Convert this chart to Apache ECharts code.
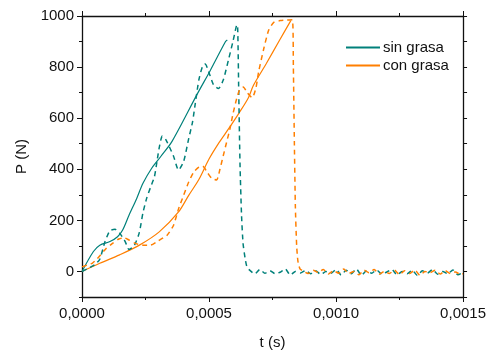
<!DOCTYPE html>
<html>
<head>
<meta charset="utf-8">
<script src="https://cdn.jsdelivr.net/npm/echarts@6/dist/echarts.min.js"></script>
<style>html,body{margin:0;padding:0;background:#fff}#c{width:489px;height:355px}</style>
</head>
<body>
<div id="c"></div>
<script>
// x ticks (s) and y ticks (N)
const xTicks = [0, 0.0005, 0.0010, 0.0015];
const yTicks = [0, 200, 400, 600, 800, 1000];

// sin grasa – fitted (solid)
const sinFitT = [0, 0.000045, 0.00007, 0.00011, 0.00014, 0.00016, 0.000185, 0.000215, 0.00024, 0.000275, 0.00031, 0.000355, 0.000455, 0.000505, 0.000565, 0.000572];
const sinFitP = [0, 78, 103, 117, 136, 162, 220, 285, 345, 405, 450, 510, 697, 787, 900, 906];

// sin grasa – measured (dashed)
const sinRawT = [0, 0.00002, 0.00005, 0.00007, 0.00009, 0.00011, 0.00013, 0.00015, 0.00017, 0.000185, 0.000205, 0.000225, 0.00024, 0.000255, 0.00027, 0.000285, 0.000295, 0.000305, 0.000316, 0.00033, 0.00036, 0.00038, 0.0004, 0.00042, 0.000435, 0.000446, 0.00046, 0.000475, 0.000485, 0.0005, 0.000518, 0.000537, 0.000556, 0.000576, 0.000595, 0.000608, 0.000612, 0.000617, 0.000622, 0.000628, 0.000634, 0.000642, 0.00065, 0.00066,
  0.00068, 0.0007, 0.00072, 0.00074, 0.00076, 0.00078, 0.0008, 0.00082, 0.00084, 0.00086, 0.00088, 0.0009, 0.00092, 0.00094, 0.00096, 0.00098, 0.001, 0.00102, 0.00104, 0.00106, 0.00108, 0.0011, 0.00112, 0.00114, 0.00116, 0.00118, 0.0012, 0.00122, 0.00124, 0.00126, 0.00128, 0.0013, 0.00132, 0.00134, 0.00136, 0.00138, 0.0014, 0.00142, 0.00144, 0.00146, 0.00148, 0.0015];
const sinRawP = [0, 10, 26, 48, 115, 160, 165, 148, 117, 86, 100, 150, 230, 288, 330, 370, 430, 490, 530, 516, 452, 397, 430, 520, 585, 658, 750, 805, 812, 778, 730, 716, 749, 826, 904, 962, 965, 700, 420, 220, 110, 52, 15, 5,
  -10, 8, -7, 3, -9, -3, 10, -14, 0, -6, 4, -9, 3, -12, 0, -7, 8, -14, 5, -9, 10, -16, 3, -7, 6, -11, -2, 8, -14, 0, -9, 5, -16, 3, -6, 8, -11, 0, -9, 6, -13, -3];

// con grasa – fitted (solid)
const conFitT = [0, 0.00007, 0.000148, 0.000226, 0.000304, 0.00038, 0.00042, 0.00046, 0.0005, 0.00054, 0.000576, 0.000618, 0.000655, 0.000675, 0.000725, 0.000777, 0.000822];
const conFitP = [0, 32, 65, 103, 155, 233, 298, 360, 440, 505, 557, 620, 680, 729, 813, 904, 982];

// con grasa – measured (dashed)
const conRawT = [0, 0.00002, 0.00004, 0.00006, 0.000095, 0.00012, 0.000145, 0.000165, 0.000185, 0.00021, 0.00024, 0.00027, 0.0003, 0.000335, 0.00036, 0.00038, 0.0004, 0.00042, 0.00044, 0.00046, 0.000475, 0.000495, 0.00051, 0.00053, 0.000543, 0.000556, 0.000569, 0.000582, 0.000595, 0.000608, 0.00062, 0.000635, 0.00065, 0.00067, 0.000685, 0.000695, 0.000715, 0.000735, 0.000755, 0.00078, 0.000805, 0.000828, 0.000832, 0.000836, 0.00084, 0.000845, 0.00085, 0.000858, 0.00087,
  0.00089, 0.00091, 0.00093, 0.00095, 0.00097, 0.00099, 0.00101, 0.00103, 0.00105, 0.00107, 0.00109, 0.00111, 0.00113, 0.00115, 0.00117, 0.00119, 0.00121, 0.00123, 0.00125, 0.00127, 0.00129, 0.00131, 0.00133, 0.00135, 0.00137, 0.00139, 0.00141, 0.00143, 0.00145, 0.00147, 0.00149, 0.0015];
const conRawP = [18, 25, 32, 50, 90, 110, 127, 132, 123, 110, 103, 103, 120, 142, 180, 245, 298, 350, 389, 408, 412, 385, 365, 358, 400, 453, 505, 557, 620, 673, 710, 722, 700, 680, 720, 780, 870, 945, 975, 982, 984, 985, 800, 500, 250, 100, 40, 10, 2,
  -8, 5, -4, 8, -10, 3, -7, 10, -8, 0, -13, 5, -5, 8, -11, 0, -8, 5, -13, 3, -8, 6, -15, 0, -5, 5, -10, 3, -8, -2, -12, -9];

const teal = '#00807a';
const orange = '#ff7f00';
const pair = (t, p) => t.map((v, i) => [v, p[i]]);
const font = 'Liberation Sans, Arial, sans-serif';

const chart = echarts.init(document.getElementById('c'), null, {renderer: 'canvas'});
const axisLine = {show: true, onZero: false, lineStyle: {color: '#111', width: 1.3}};
const fmtX = v => xTicks.some(t => Math.abs(t - v) < 1e-9) ? v.toFixed(4).replace('.', ',') : '';
const fmtY = v => yTicks.indexOf(Math.round(v)) >= 0 ? String(Math.round(v)) : '';

chart.setOption({
  animation: false,
  grid: {left: 82, right: 21, top: 16, bottom: 56, containLabel: false},
  legend: {
    data: ['sin grasa', 'con grasa'],
    orient: 'vertical', left: 341, top: 35,
    itemWidth: 34, itemHeight: 2, itemGap: 3,
    icon: 'rect',
    textStyle: {fontFamily: font, fontSize: 15, color: '#111', padding: [0, 0, 0, -2]}
  },
  xAxis: [{
    type: 'value', min: 0, max: 0.0015, interval: 0.0005, position: 'bottom',
    name: 't (s)', nameLocation: 'middle', nameGap: 38,
    nameTextStyle: {fontFamily: font, fontSize: 15, color: '#111'},
    axisLine: axisLine,
    axisTick: {show: true, inside: false, length: 5, lineStyle: {color: '#111'}},
    minorTick: {show: true, splitNumber: 2, length: 3, lineStyle: {color: '#111'}},
    axisLabel: {formatter: fmtX, fontFamily: font, fontSize: 15, color: '#111', margin: 9, showMaxLabel: true},
    splitLine: {show: false}
  }, {
    type: 'value', min: 0, max: 0.0015, interval: 0.0005, position: 'top',
    axisLine: axisLine,
    axisTick: {show: true, inside: false, length: 5, lineStyle: {color: '#111'}},
    minorTick: {show: true, splitNumber: 2, length: 3, lineStyle: {color: '#111'}},
    axisLabel: {show: false}, splitLine: {show: false}
  }],
  yAxis: [{
    type: 'value', min: -100, max: 1000, interval: 100, position: 'left',
    name: 'P (N)', nameLocation: 'middle', nameGap: 53, nameRotate: 90,
    nameTextStyle: {fontFamily: font, fontSize: 15, color: '#111'},
    axisLine: axisLine,
    axisTick: {show: true, inside: false, length: 3, lineStyle: {color: '#111'}},
    axisLabel: {formatter: fmtY, fontFamily: font, fontSize: 15, color: '#111', margin: 8},
    splitLine: {show: false}
  }, {
    type: 'value', min: -100, max: 1000, position: 'left',
    axisLine: {show: false, onZero: false},
    axisTick: {show: true, inside: false, length: 5, customValues: yTicks, lineStyle: {color: '#111'}},
    axisLabel: {show: false}, splitLine: {show: false}
  }, {
    type: 'value', min: -100, max: 1000, interval: 100, position: 'right',
    axisLine: axisLine,
    axisTick: {show: true, inside: false, length: 4, lineStyle: {color: '#111'}},
    axisLabel: {show: false}, splitLine: {show: false}
  }],
  series: [
    {name: 'sin grasa', type: 'line', data: pair(sinFitT, sinFitP), showSymbol: false, smooth: 0.3,
     lineStyle: {color: teal, width: 1.2}, itemStyle: {color: teal}},
    {name: 'con grasa', type: 'line', data: pair(conFitT, conFitP), showSymbol: false, smooth: 0.3,
     lineStyle: {color: orange, width: 1.2}, itemStyle: {color: orange}},
    {name: 'sin grasa (medida)', type: 'line', data: pair(sinRawT, sinRawP), showSymbol: false, smooth: 0.2,
     lineStyle: {color: teal, width: 1.5, type: [5, 4]}, itemStyle: {color: teal}},
    {name: 'con grasa (medida)', type: 'line', data: pair(conRawT, conRawP), showSymbol: false, smooth: 0.2,
     lineStyle: {color: orange, width: 1.5, type: [5, 4]}, itemStyle: {color: orange}}
  ]
});
</script>
</body>
</html>
